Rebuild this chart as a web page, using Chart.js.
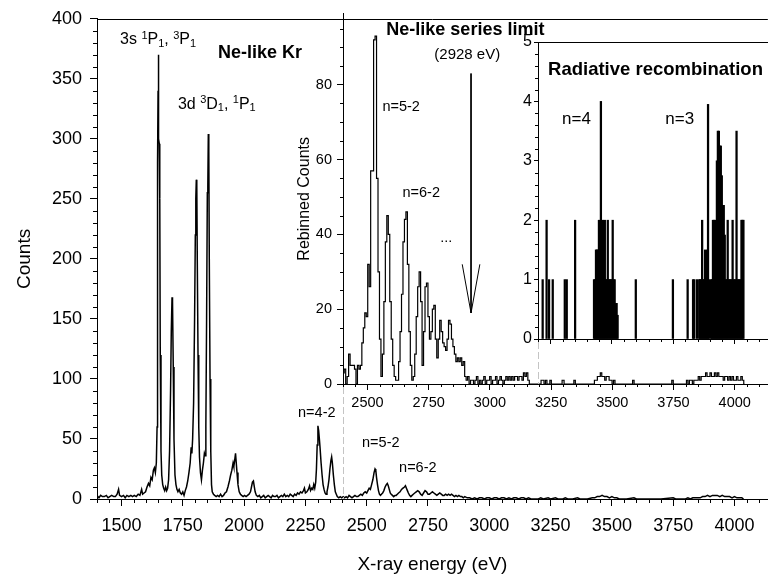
<!DOCTYPE html>
<html><head><meta charset="utf-8">
<script src="https://cdn.jsdelivr.net/npm/chart.js@4/dist/chart.umd.min.js"></script>
<style>
html,body{margin:0;padding:0;background:#fff;}
#wrap{position:relative;width:768px;height:581px;overflow:hidden;background:#fff;}
.c{position:absolute;}
</style></head><body>
<div id="wrap">
<div class="c" style="left:0;top:0;width:768px;height:581px"><canvas id="main"></canvas></div>
<div class="c" style="left:280px;top:0;width:488px;height:499px"><canvas id="ins1"></canvas></div>
<div class="c" style="left:480px;top:0;width:288px;height:384px"><canvas id="ins2"></canvas></div>
</div>
<script>
// ---------------- data ----------------
const mainEnergy = [1400,1408,1415,1422,1430,1438,1445,1452,1460,1468,1475,1482,1488,1492,1500,1508,1515,1522,1530,1538,1545,1552,1560,1568,1575,1582,1586,1592,1598,1604,1610,1615,1620,1625,1630,1634,1638,1642,1645,1647,1649,1650,1652,1654,1656,1658,1661,1664,1668,1672,1676,1680,1684,1688,1692,1696,1700,1703,1706,1708,1711,1714,1718,1722,1726,1730,1735,1740,1745,1750,1755,1760,1765,1770,1775,1780,1784,1787,1790,1794,1798,1801,1803,1805,1807,1809,1812,1815,1818,1822,1826,1830,1834,1838,1841,1844,1847,1850,1852,1854,1856,1858,1861,1864,1867,1870,1875,1880,1886,1892,1898,1904,1910,1916,1922,1928,1934,1940,1945,1950,1955,1958,1962,1965,1968,1971,1975,1980,1985,1990,1996,2002,2008,2014,2020,2026,2030,2034,2038,2041,2045,2050,2056,2062,2068,2074,2080,2086,2092,2098,2104,2110,2116,2122,2128,2134,2140,2146,2152,2158,2164,2170,2176,2182,2188,2194,2200,2206,2212,2218,2224,2230,2236,2242,2246,2250,2256,2262,2267,2271,2276,2280,2284,2288,2292,2295,2298,2301,2304,2307,2310,2314,2318,2322,2326,2330,2334,2338,2342,2346,2350,2354,2357,2360,2364,2368,2372,2376,2380,2386,2392,2398,2404,2410,2416,2422,2428,2434,2440,2446,2452,2458,2464,2470,2476,2482,2488,2494,2500,2505,2510,2515,2520,2525,2530,2534,2537,2540,2544,2548,2552,2556,2560,2565,2570,2575,2580,2584,2588,2592,2596,2600,2605,2610,2615,2620,2625,2630,2636,2642,2648,2654,2658,2662,2666,2670,2675,2680,2685,2690,2696,2702,2708,2714,2720,2726,2732,2738,2744,2750,2756,2762,2768,2774,2780,2786,2792,2798,2804,2810,2816,2822,2828,2834,2840,2846,2852,2858,2864,2870,2876,2882,2888,2894,2900,2910,2920,2930,2940,2950,2960,2970,2980,2990,3000,3010,3020,3030,3040,3050,3060,3070,3080,3090,3100,3110,3120,3130,3140,3150,3160,3170,3180,3200,3210,3220,3240,3250,3270,3280,3300,3310,3320,3340,3360,3370,3400,3420,3430,3440,3450,3460,3470,3480,3490,3500,3510,3520,3530,3560,3590,3600,3650,3700,3750,3760,3800,3810,3820,3830,3840,3850,3860,3870,3880,3890,3900,3910,3920,3930,3940,3950,3960,3970,3980,3990,4000,4010,4020,4030,4037];
const mainCounts = [3,1,3,2,2,3,1,2,3,2,2,4,8,3,2,3,1,3,2,3,2,3,2,4,3,8,4,5,6,10,13,11,18,16,24,26,22,30,60,280,340,370,300,296,250,120,40,20,12,9,7,10,7,9,16,40,90,140,168,165,110,50,20,12,8,6,8,5,4,6,3,7,10,15,22,30,43,38,50,80,150,220,250,266,262,200,120,60,35,22,16,24,30,38,36,60,150,255,260,304,290,200,100,40,12,6,4,3,2,3,2,4,2,3,5,6,10,15,20,24,30,27,33,38,30,22,12,6,4,3,2,3,2,3,4,6,10,14,15,11,6,3,2,3,1,2,3,1,2,3,2,1,3,2,2,3,1,2,3,2,4,2,3,2,4,3,2,4,3,5,4,6,5,7,9,5,6,8,11,7,9,8,12,9,14,25,45,61,57,50,42,30,20,12,8,5,4,6,10,16,25,32,35,30,20,12,6,4,2,1,2,1,2,1,2,1,3,2,1,2,3,2,2,3,4,3,5,6,5,7,9,8,12,16,22,25,24,18,12,7,4,3,4,5,7,10,12,13,11,8,5,4,3,2,3,3,4,5,6,8,9,10,11,9,7,5,3,2,3,4,5,6,7,6,4,3,5,7,6,4,4,5,6,5,4,3,4,5,4,3,3,4,3,4,3,4,3,2,3,2,3,2,2,1,2,1,1,0,1,0,1,1,0,1,1,0,1,1,0,1,1,0,1,0,1,1,0,1,1,0,1,0,0,0,1,0,1,0,1,0,0,1,0,0,1,0,0,1,1,2,2,3,2,2,1,2,1,1,0,0,1,0,0,0,1,0,0,1,0,1,1,1,1,2,2,3,2,3,3,3,2,3,2,2,2,1,2,1,1,1,0];

const rebinEnergy = [2402,2408,2414,2420,2426,2432,2438,2444,2450,2456,2462,2468,2474,2480,2486,2492,2498,2504,2510,2516,2522,2528,2534,2540,2546,2552,2558,2564,2570,2576,2582,2588,2594,2600,2606,2612,2618,2624,2630,2636,2642,2648,2654,2660,2666,2672,2678,2684,2690,2696,2702,2708,2714,2720,2726,2732,2738,2744,2750,2756,2762,2768,2774,2780,2786,2792,2798,2804,2810,2816,2822,2828,2834,2840,2846,2852,2858,2864,2870,2876,2882,2888,2894,2900,2906,2912,2918,2924,2930,2936,2942,2948,2954,2960,2966,2972,2978,2984,2990,2996,3002,3008,3014,3020,3026,3032,3038,3044,3050,3056,3062,3068,3074,3080,3086,3092,3098,3104,3110,3116,3122,3128,3134,3140,3146,3152,3158,3164,3170,3176,3182,3200,3206,3212,3218,3224,3230,3236,3242,3248,3254,3260,3290,3300,3306,3310,3340,3346,3352,3400,3424,3430,3436,3442,3448,3454,3460,3466,3472,3478,3484,3490,3496,3502,3508,3514,3520,3580,3586,3592,3740,3746,3752,3800,3806,3812,3818,3824,3830,3836,3842,3848,3854,3860,3866,3872,3878,3884,3890,3896,3902,3908,3914,3920,3926,3932,3938,3944,3950,3956,3962,3968,3974,3980,3986,3992,3998,4004,4010,4016,4022,4028,4034,4040];
const rebinCounts = [3,4,0,2,8,5,5,5,4,0,5,4,5,11,15,19,18,32,26,57,57,92,93,55,30,12,2,8,22,38,45,40,22,12,5,2,1,1,6,14,24,38,44,46,32,14,5,1,2,8,18,26,30,22,5,14,26,27,18,12,14,20,21,12,7,12,17,14,11,10,9,12,17,16,12,10,8,6,7,6,7,5,6,2,1,2,0,1,1,0,1,2,0,1,0,1,2,0,1,1,2,0,1,1,2,0,1,2,1,0,1,2,1,2,1,2,1,2,2,1,2,2,1,3,2,3,1,0,0,0,0,0,0,1,1,0,1,0,0,1,0,0,0,1,0,0,0,1,0,0,0,1,1,2,2,3,2,2,1,2,2,1,1,0,1,0,0,0,1,0,0,1,0,0,1,0,1,1,0,1,1,1,2,1,2,2,2,3,2,2,3,2,2,3,2,3,2,2,2,1,2,2,1,2,1,2,1,1,2,1,1,2,1,0];

const rrEnergy = [3219,3235,3245,3260,3309,3317,3351,3428,3432,3436,3440,3444,3448,3452,3456,3460,3464,3468,3472,3476,3480,3484,3488,3492,3496,3500,3504,3508,3512,3516,3520,3524,3598,3749,3809,3831,3836,3847,3856,3860,3864,3868,3872,3876,3880,3884,3888,3892,3896,3904,3908,3912,3916,3920,3924,3928,3932,3936,3940,3944,3948,3952,3956,3960,3964,3968,3972,3976,3980,3984,3988,3992,3996,4000,4004,4008,4012,4016,4020,4024,4028,4032,4036];
const rrCounts = [1,2,1,1,1,1,2,1,1,1.5,1.5,1.5,2,1,4,1,2,1,2,1,1,2,1,1,1,1,2,1,1,0.6,0.6,0.4,1,1,1,1,1,1,1,1,1,2,1,1,1.5,1,1.5,3.95,1,1,1,2,2,2,1,3,3.5,3.5,3.25,3.25,2.75,2.25,2.25,1.75,1,1,2,1,1,1,1,2,1,1,1,3.5,1,1,1,1,2,2,2];

const seriesLimitArrowX = [2923, 2923];
const seriesLimitArrowY = [83, 19];
const arrowHeadX = [2887, 2923, 2959];
const arrowHeadY = [32, 19, 32];

// tick labels (major ticks)
const mainXTickLabels = [1500,1750,2000,2250,2500,2750,3000,3250,3500,3750,4000];
const mainYTickLabels = [0,50,100,150,200,250,300,350,400];
const rebinXTickLabels = [2500,2750,3000,3250,3500,3750,4000];
const rebinYTickLabels = [0,20,40,60,80];
const rrXMajor = [3250,3500,3750,4000];
const rrYTickLabels = [0,1,2,3,4,5];

// ---------------- helpers ----------------
const FONT = "'Liberation Sans', Arial, Helvetica, sans-serif";
Chart.defaults.font.family = FONT;
Chart.defaults.color = '#000';
const pts = (xs, ys) => xs.map((x, i) => ({x, y: ys[i]}));
const isIn = (arr, v) => arr.includes(Math.round(v * 1e6) / 1e6);

const axisMeta = {};
const annotations = {};
const frames = {};

function scale(cid, sid, o) {
  axisMeta[cid] = axisMeta[cid] || {};
  axisMeta[cid][sid] = {majors: o.majors, minorLen: o.ml};
  return {
    type: 'linear', min: o.min, max: o.max, offset: false, position: o.pos,
    afterFit: s => { if (o.pos === 'left') s.width = o.size; else s.height = o.size; },
    border: {display: true, color: '#000', width: 1},
    grid: {display: true, drawOnChartArea: false, drawTicks: true, tickLength: o.tl, offset: false,
      tickWidth: 1,
      tickColor: ctx => (ctx.tick && isIn(o.majors, ctx.tick.value)) ? '#000' : 'rgba(0,0,0,0)'},
    ticks: {stepSize: o.step, autoSkip: false, maxRotation: 0, minRotation: 0, includeBounds: false,
      padding: o.pad, font: {size: o.fs}, color: '#000',
      callback: v => (o.labels && isIn(o.majors, v)) ? String(v) : ''},
    title: o.title ? {display: true, text: o.title, color: '#000', font: {size: o.tfs}, padding: o.tpad} : {display: false}
  };
}

const decoPlugin = {
  id: 'deco',
  afterDraw(chart) {
    const cid = chart.canvas.id;
    const {ctx, chartArea: a} = chart;
    ctx.save();
    const fr = frames[cid] || {};
    if (fr.top) {
      ctx.strokeStyle = '#000'; ctx.lineWidth = 1;
      ctx.beginPath(); ctx.moveTo(a.left, Math.round(a.top) + 0.5); ctx.lineTo(a.right, Math.round(a.top) + 0.5); ctx.stroke();
    }
    if (fr.dashDown) {
      ctx.strokeStyle = '#c4c4c4'; ctx.lineWidth = 1; ctx.setLineDash([7, 3]);
      ctx.beginPath(); ctx.moveTo(Math.round(a.left) + 0.5, a.bottom + 3); ctx.lineTo(Math.round(a.left) + 0.5, chart.height); ctx.stroke();
      ctx.setLineDash([]);
    }
    const meta = axisMeta[cid] || {};
    Object.keys(meta).forEach(sid => {
      const sc = chart.scales[sid], m = meta[sid];
      if (!sc || !m.minorLen) return;
      ctx.strokeStyle = '#000'; ctx.lineWidth = 1;
      sc.ticks.forEach(t => {
        if (isIn(m.majors, t.value)) return;
        const p = Math.round(sc.getPixelForValue(t.value)) + 0.5;
        ctx.beginPath();
        if (sc.isHorizontal()) { ctx.moveTo(p, sc.top); ctx.lineTo(p, sc.top + m.minorLen); }
        else { ctx.moveTo(sc.right, p); ctx.lineTo(sc.right - m.minorLen, p); }
        ctx.stroke();
      });
    });
    const xs = chart.scales.x, ys = chart.scales.y;
    (annotations[cid] || []).forEach(it => {
      let x = xs.getPixelForValue(it.x);
      const y = ys.getPixelForValue(it.y);
      ctx.fillStyle = '#000';
      ctx.textBaseline = it.base || 'alphabetic';
      ctx.textAlign = 'left';
      const fontOf = s => `${it.bold ? 'bold ' : ''}${s[1] === 'n' ? it.size : Math.round(it.size * 0.68)}px ${FONT}`;
      const widths = it.segs.map(s => { ctx.font = fontOf(s); return ctx.measureText(s[0]).width; });
      const total = widths.reduce((p, q) => p + q, 0);
      if (it.align === 'center') x -= total / 2;
      it.segs.forEach((s, i) => {
        ctx.font = fontOf(s);
        const dy = s[1] === 'sup' ? -it.size * 0.36 : (s[1] === 'sub' ? it.size * 0.16 : 0);
        ctx.fillText(s[0], x, y + dy);
        x += widths[i];
      });
    });
    ctx.restore();
  }
};
Chart.register(decoPlugin);

const common = {
  responsive: true, maintainAspectRatio: false, animation: false, devicePixelRatio: 1,
  plugins: {legend: {display: false}, tooltip: {enabled: false}},
  elements: {point: {radius: 0}}
};

// ---------------- main spectrum ----------------
frames.main = {top: true};
annotations.main = [
  {x: 1494, y: 378.6, size: 16, segs: [['3s ', 'n'], ['1', 'sup'], ['P', 'n'], ['1', 'sub'], [', ', 'n'], ['3', 'sup'], ['P', 'n'], ['1', 'sub']]},
  {x: 1893, y: 367, size: 18, bold: true, segs: [['Ne-like Kr', 'n']]},
  {x: 1730, y: 325, size: 16, segs: [['3d ', 'n'], ['3', 'sup'], ['D', 'n'], ['1', 'sub'], [', ', 'n'], ['1', 'sup'], ['P', 'n'], ['1', 'sub']]},
  {x: 2220, y: 71.5, size: 14.5, base: 'middle', segs: [['n=4-2', 'n']]},
  {x: 2481, y: 47, size: 14.5, base: 'middle', segs: [['n=5-2', 'n']]},
  {x: 2632, y: 25.5, size: 14.5, base: 'middle', segs: [['n=6-2', 'n']]}
];
new Chart(document.getElementById('main'), {
  type: 'line',
  data: {datasets: [
    {data: pts(mainEnergy, mainCounts), borderColor: '#000', borderWidth: 1.5, tension: 0, pointRadius: 0}
  ]},
  options: Object.assign({}, common, {
    layout: {padding: {top: 12, right: 0, bottom: 0, left: 0}},
    scales: {
      x: scale('main', 'x', {min: 1400, max: 4136, pos: 'bottom', size: 82, step: 50, majors: mainXTickLabels, labels: true,
        tl: 7, ml: 4, pad: 9, fs: 18, title: 'X-ray energy (eV)', tfs: 19, tpad: {top: 0, bottom: 5}}),
      y: scale('main', 'y', {min: 0, max: 400, pos: 'left', size: 97, step: 10, majors: mainYTickLabels, labels: true,
        tl: 7, ml: 4, pad: 8, fs: 18, title: 'Counts', tfs: 19, tpad: {top: 13, bottom: 0}})
    }
  })
});

// ---------------- inset 1: rebinned ----------------
frames.ins1 = {dashDown: true};
annotations.ins1 = [
  {x: 2577, y: 93.4, size: 18, bold: true, segs: [['Ne-like series limit', 'n']]},
  {x: 2773, y: 88, size: 15, base: 'middle', segs: [['(2928 eV)', 'n']]},
  {x: 2561, y: 74, size: 14.5, base: 'middle', segs: [['n=5-2', 'n']]},
  {x: 2643, y: 51, size: 14.5, base: 'middle', segs: [['n=6-2', 'n']]},
  {x: 2822, y: 38, size: 14.5, align: 'center', segs: [['...', 'n']]}
];
new Chart(document.getElementById('ins1'), {
  type: 'line',
  data: {datasets: [
    {data: pts(rebinEnergy, rebinCounts), borderColor: '#000', borderWidth: 1.2, stepped: 'middle', pointRadius: 0},
    {data: pts(seriesLimitArrowX, seriesLimitArrowY), borderColor: '#000', borderWidth: 1, pointRadius: 0},
    {data: pts(arrowHeadX, arrowHeadY), borderColor: '#000', borderWidth: 1, pointRadius: 0}
  ]},
  options: Object.assign({}, common, {
    layout: {padding: {top: 12, right: 0, bottom: 0, left: 0}},
    scales: {
      x: scale('ins1', 'x', {min: 2400, max: 4136, pos: 'bottom', size: 115, step: 50, majors: rebinXTickLabels, labels: true,
        tl: 6, ml: 3, pad: 4, fs: 14.5}),
      y: scale('ins1', 'y', {min: 0, max: 99, pos: 'left', size: 63, step: 5, majors: rebinYTickLabels, labels: true,
        tl: 6, ml: 3, pad: 5, fs: 14.5, title: 'Rebinned Counts', tfs: 16, tpad: {top: 15, bottom: 0}})
    }
  })
});

// ---------------- inset 2: radiative recombination ----------------
frames.ins2 = {top: true, dashDown: true};
annotations.ins2 = [
  {x: 3241, y: 4.44, size: 18.5, bold: true, segs: [['Radiative recombination', 'n']]},
  {x: 3298, y: 3.7, size: 17, base: 'middle', segs: [['n=4', 'n']]},
  {x: 3718, y: 3.7, size: 17, base: 'middle', segs: [['n=3', 'n']]}
];
new Chart(document.getElementById('ins2'), {
  type: 'bar',
  data: {datasets: [
    {data: pts(rrEnergy, rrCounts), backgroundColor: '#000', borderWidth: 0, barThickness: 1.6}
  ]},
  options: Object.assign({}, common, {
    layout: {padding: {top: 42, right: 0, bottom: 0, left: 0}},
    scales: {
      x: scale('ins2', 'x', {min: 3200, max: 4136, pos: 'bottom', size: 45, step: 50, majors: rrXMajor, labels: false,
        tl: 5, ml: 3, pad: 2, fs: 12}),
      y: scale('ins2', 'y', {min: 0, max: 5, pos: 'left', size: 58, step: 0.2, majors: rrYTickLabels, labels: true,
        tl: 4, ml: 3, pad: 2, fs: 16})
    }
  })
});
</script>
</body></html>
